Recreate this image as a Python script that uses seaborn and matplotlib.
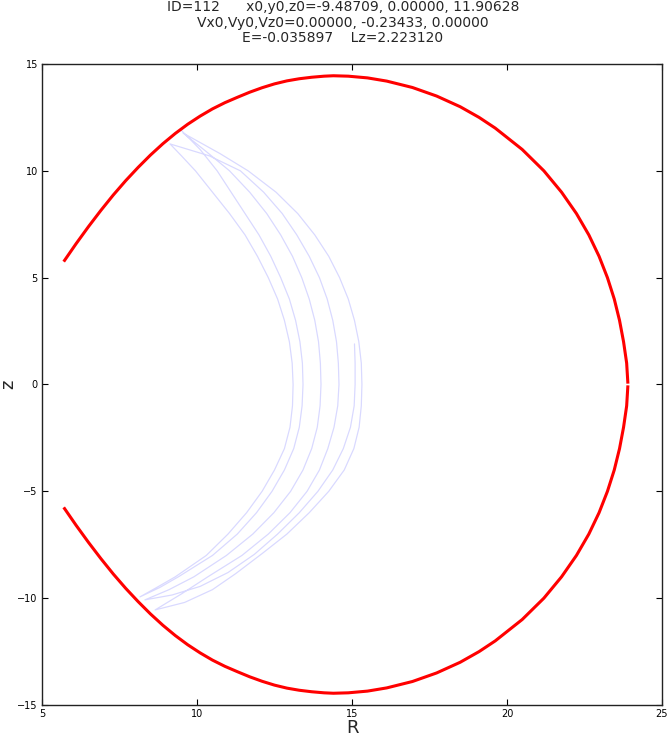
import matplotlib
matplotlib.use("Agg")
import matplotlib.pyplot as plt
import seaborn as sns

# --- zero-velocity curve, upper and lower halves ---
zvc_up_R = [5.70, 6.10, 6.50, 6.90, 7.30, 7.70, 8.10, 8.50, 8.90, 9.30, 9.70, 10.10, 10.50,
            10.90, 11.30, 11.70, 12.10, 12.50, 12.90, 13.30, 13.70, 14.10, 14.40, 14.88,
            15.50, 16.12, 16.95, 17.73, 18.49, 19.10, 19.62, 20.49, 21.19, 21.76, 22.24,
            22.64, 22.97, 23.24, 23.46, 23.63, 23.76, 23.86, 23.90]
zvc_up_z = [5.75, 6.59, 7.39, 8.15, 8.87, 9.54, 10.16, 10.74, 11.27, 11.75, 12.18, 12.56, 12.90,
            13.19, 13.44, 13.68, 13.89, 14.07, 14.21, 14.31, 14.38, 14.43, 14.45, 14.43,
            14.35, 14.20, 13.90, 13.50, 13.00, 12.50, 12.00, 11.00, 10.00, 9.00, 8.00,
            7.00, 6.00, 5.00, 4.00, 3.00, 2.00, 1.00, 0.04]
zvc_lo_R = [5.70, 6.10, 6.50, 6.90, 7.30, 7.70, 8.10, 8.50, 8.90, 9.30, 9.70, 10.10, 10.50,
            10.90, 11.30, 11.70, 12.10, 12.50, 12.90, 13.30, 13.70, 14.10, 14.40, 14.88,
            15.50, 16.12, 16.95, 17.73, 18.49, 19.10, 19.62, 20.49, 21.19, 21.76, 22.24,
            22.64, 22.97, 23.24, 23.46, 23.63, 23.76, 23.86, 23.90]
zvc_lo_z = [-5.75, -6.59, -7.39, -8.15, -8.87, -9.54, -10.16, -10.74, -11.27, -11.75, -12.18, -12.56, -12.90,
            -13.19, -13.44, -13.68, -13.89, -14.07, -14.21, -14.31, -14.38, -14.43, -14.45, -14.43,
            -14.35, -14.20, -13.90, -13.50, -13.00, -12.50, -12.00, -11.00, -10.00, -9.00, -8.00,
            -7.00, -6.00, -5.00, -4.00, -3.00, -2.00, -1.00, -0.04]

# --- orbit in the meridional plane (R, z): six passes top <-> bottom ---
orbit_R = [
    # pass 1 (down)
    9.49, 10.10, 10.65, 11.10, 11.55, 12.00, 12.38, 12.70, 12.98, 13.18, 13.32, 13.40, 13.42,
    13.39, 13.30, 13.12, 12.82, 12.42, 11.92, 11.30, 10.50, 9.40, 8.80, 8.16,
    # pass 2 (up)
    8.70, 9.30, 10.30, 11.00, 11.60, 12.10, 12.50, 12.82, 13.00, 13.08, 13.10,
    13.07, 12.98, 12.82, 12.60, 12.30, 11.95, 11.55, 11.05, 10.50, 9.95, 9.50, 9.13,
    # pass 3 (down)
    10.40, 11.40, 12.15, 12.75, 13.22, 13.62, 13.95, 14.20, 14.38, 14.50, 14.56, 14.58,
    14.54, 14.42, 14.22, 13.95, 13.55, 13.00, 12.30, 11.45, 10.35, 9.50, 8.65,
    # pass 4 (up)
    9.60, 10.50, 11.25, 12.13, 12.90, 13.62, 14.25, 14.75, 15.06, 15.23, 15.30, 15.32,
    15.30, 15.22, 15.08, 14.88, 14.60, 14.25, 13.80, 13.25, 12.55, 11.65, 10.75, 9.55,
    # pass 5 (down)
    10.30, 11.05, 11.70, 12.25, 12.70, 13.08, 13.38, 13.62, 13.80, 13.92, 13.98, 14.00,
    13.97, 13.88, 13.70, 13.42, 13.02, 12.48, 11.80, 10.95, 9.90, 9.10, 8.32,
    # pass 6 (up, stops part way)
    9.20, 10.10, 11.00, 11.85, 12.60, 13.30, 13.90, 14.38, 14.72, 14.95, 15.07, 15.10,
    15.10, 15.08]
orbit_z = [
    11.90, 11.00, 10.00, 9.00, 8.00, 7.00, 6.00, 5.00, 4.00, 3.00, 2.00, 1.00, 0.00,
    -1.00, -2.00, -3.00, -4.00, -5.00, -6.00, -7.00, -8.00, -9.00, -9.50, -9.94,
    -9.50, -9.00, -8.00, -7.00, -6.00, -5.00, -4.00, -3.00, -2.00, -1.00, 0.00,
    1.00, 2.00, 3.00, 4.00, 5.00, 6.00, 7.00, 8.00, 9.00, 10.00, 10.70, 11.26,
    10.70, 10.00, 9.00, 8.00, 7.00, 6.00, 5.00, 4.00, 3.00, 2.00, 1.00, 0.00,
    -1.00, -2.00, -3.00, -4.00, -5.00, -6.00, -7.00, -8.00, -9.00, -9.80, -10.55,
    -10.20, -9.60, -8.85, -7.88, -7.00, -6.00, -5.00, -4.00, -3.00, -2.00, -1.00, 0.00,
    1.00, 2.00, 3.00, 4.00, 5.00, 6.00, 7.00, 8.00, 9.00, 10.00, 10.80, 11.77,
    10.90, 10.00, 9.00, 8.00, 7.00, 6.00, 5.00, 4.00, 3.00, 2.00, 1.00, 0.00,
    -1.00, -2.00, -3.00, -4.00, -5.00, -6.00, -7.00, -8.00, -9.00, -9.60, -10.08,
    -9.85, -9.45, -8.80, -7.95, -7.00, -6.00, -5.00, -4.00, -3.00, -2.00, -1.00, 0.00,
    1.00, 1.90]

title_lines = ["ID=112      x0,y0,z0=-9.48709, 0.00000, 11.90628",
               "Vx0,Vy0,Vz0=0.00000, -0.23433, 0.00000",
               "E=-0.035897    Lz=2.223120"]
title_y_px = [7.5, 22.5, 38.5]
x_ticks = [5, 10, 15, 20, 25]
y_ticks = [-15, -10, -5, 0, 5, 10, 15]

sns.set_theme(style="white")
plt.rcParams['font.family'] = ['DejaVu Sans']
plt.rcParams['axes.unicode_minus'] = True

fig = plt.figure(figsize=(6.68, 7.36), dpi=100)
ax = fig.add_axes([42 / 668, 1 - 705 / 736, 620 / 668, 641 / 736])

sns.lineplot(x=orbit_R, y=orbit_z, sort=False, estimator=None, ax=ax,
             color='blue', alpha=0.15, lw=0.9)
sns.lineplot(x=zvc_up_R, y=zvc_up_z, sort=False, estimator=None, ax=ax,
             color='red', lw=2.2, solid_capstyle='butt')
sns.lineplot(x=zvc_lo_R, y=zvc_lo_z, sort=False, estimator=None, ax=ax,
             color='red', lw=2.2, solid_capstyle='butt')

ax.set_xlim(5, 25)
ax.set_ylim(-15, 15)
ax.set_xticks(x_ticks)
ax.set_yticks(y_ticks)
ax.tick_params(direction='in', length=4, width=0.8, labelsize=7, colors='black',
               top=True, right=True, bottom=True, left=True, pad=3)
for sp in ax.spines.values():
    sp.set_color('#222222')
    sp.set_linewidth(1.0)

ax.set_xlabel("R", fontsize=13, labelpad=0)
ax.set_ylabel("z", fontsize=13, labelpad=0)
for line, ypx in zip(title_lines, title_y_px):
    fig.text(343 / 668, 1 - ypx / 736, line, ha='center', va='center', fontsize=10)

fig.savefig("out.png", dpi=100)
